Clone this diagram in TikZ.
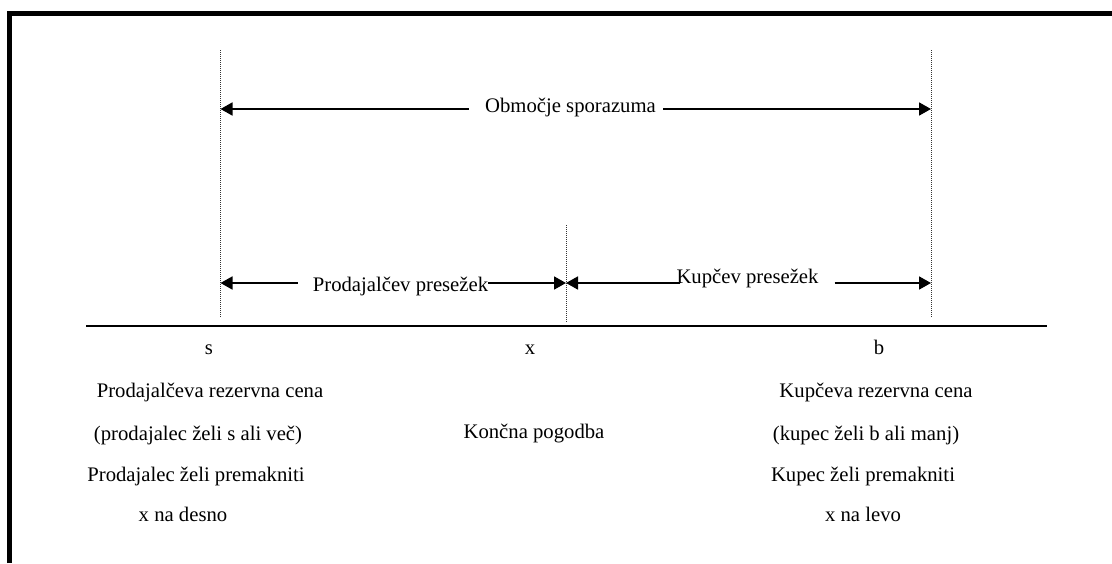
\documentclass[tikz,border=0pt]{standalone}
\usepackage{fontspec}
\setmainfont{Liberation Serif}
\usetikzlibrary{arrows.meta}

\begin{document}
\begin{tikzpicture}[
  x=1pt, y=-1pt,
  font=\fontsize{20.7}{24}\selectfont,
  >={Triangle[length=12pt,width=13pt]},
  lbl/.style={anchor=base,inner sep=0pt},
  arrow/.style={->,line width=1.8pt},
  guide/.style={line width=0.9pt,dash pattern=on 1pt off 1pt,black!80},
  axis/.style={line width=2.5pt}
]
\useasboundingbox (0,0) rectangle (1112,563);
\draw[line width=5pt] (9.5,563) -- (9.5,13) -- (1112,13);

\coordinate (sTop) at (220.5,50);
\coordinate (sBot) at (220.5,318);
\coordinate (xTop) at (566,225);
\coordinate (xBot) at (566,322);
\coordinate (bTop) at (931,50);
\coordinate (bBot) at (931,318);
\coordinate (sArr) at (220.5,109);
\coordinate (bArr) at (931,109);
\coordinate (sLow) at (220.5,283);
\coordinate (xm) at (566,283);
\coordinate (bLow) at (931,283);
\coordinate (axL) at (86,326);
\coordinate (axR) at (1047,326);

\draw[guide] (sTop) -- (sBot);
\draw[guide] (xTop) -- (xBot);
\draw[guide] (bTop) -- (bBot);
\draw[axis] (axL) -- (axR);

\node[lbl] (zone) at (570.5,112) {Območje sporazuma};
\draw[arrow] ([xshift=-16pt]zone.west |- sArr) -- (sArr);
\draw[arrow] ([xshift=7pt]zone.east |- bArr) -- (bArr);

\node[lbl] (prod) at (400.5,291) {Prodajalčev presežek};
\node[lbl] (kup) at (747.5,283) {Kupčev presežek};
\draw[arrow] ([xshift=-15pt]prod.west |- sLow) -- (sLow);
\draw[arrow] (prod.east |- xm) -- (xm);
\draw[arrow] ([xshift=4pt]kup.west |- xm) -- (xm);
\draw[arrow] ([xshift=16pt]kup.east |- bLow) -- (bLow);

\node[lbl] (s) at (209,354) {s};
\node[lbl] (x) at (530,354) {x};
\node[lbl] (b) at (879,354) {b};

\node[lbl] (sres) at (210,397) {Prodajalčeva rezervna cena};
\node[lbl] (swant) at (198,440) {(prodajalec želi s ali več)};
\node[lbl] (smove) at (196,481) {Prodajalec želi premakniti};
\node[lbl] (sdir) at (183,521) {x na desno};

\node[lbl] (deal) at (534,438) {Končna pogodba};

\node[lbl] (bres) at (876,397) {Kupčeva rezervna cena};
\node[lbl] (bwant) at (866,440) {(kupec želi b ali manj)};
\node[lbl] (bmove) at (863,481) {Kupec želi premakniti};
\node[lbl] (bdir) at (863,521) {x na levo};
\end{tikzpicture}
\end{document}
